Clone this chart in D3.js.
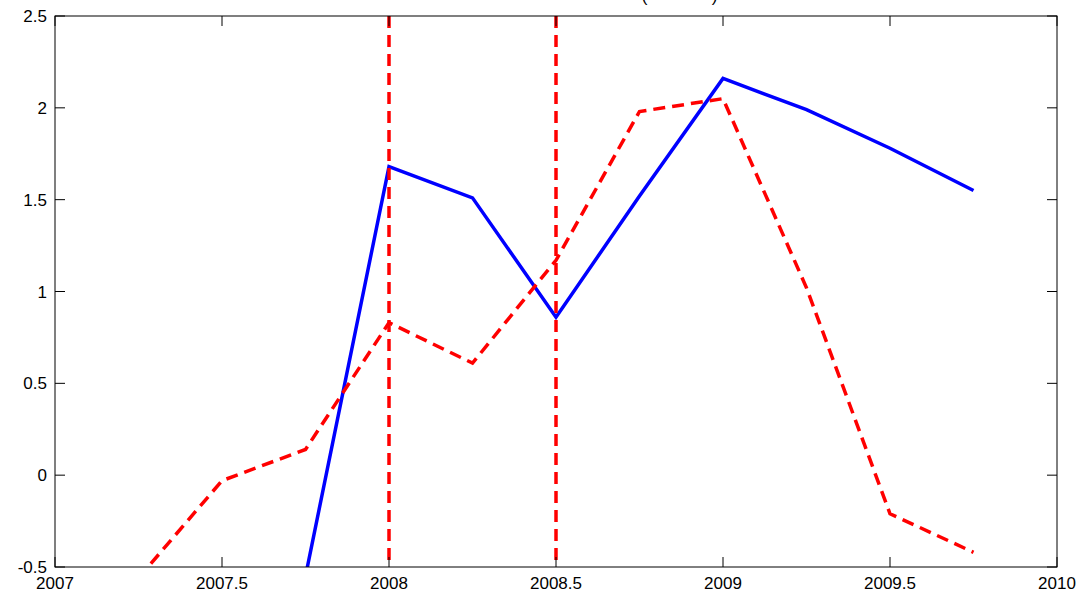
<!DOCTYPE html>
<html><head><meta charset="utf-8">
<script src="https://cdn.jsdelivr.net/npm/d3@7"></script>
<style>body{margin:0;background:#fff}text{font-family:Arial,"Liberation Sans",sans-serif}</style>
</head><body><svg></svg>
<script>
let width = 1085, height = 598

let quarters = [2007.25, 2007.5, 2007.75, 2008, 2008.25, 2008.5, 2008.75, 2009, 2009.25, 2009.5, 2009.75]
let blueSeries = [null, null, -0.55, 1.68, 1.51, 0.86, 1.52, 2.16, 1.99, 1.78, 1.55]
let redSeries = [-0.56, -0.03, 0.14, 0.83, 0.61, 1.17, 1.98, 2.05, 1.02, -0.21, -0.42]
let markers = [2008, 2008.5]
let xTicks = [2007, 2007.5, 2008, 2008.5, 2009, 2009.5, 2010]
let yTicks = [-0.5, 0, 0.5, 1, 1.5, 2, 2.5]
let titleParts = [{t: "(", at: 2008.765}, {t: ")", at: 2008.975}]

let svg = d3.select("svg").attr("width", width).attr("height", height)

let x = d3.scaleLinear().domain([2007, 2010]).range([55, 1057])
let y = d3.scaleLinear().domain([-0.5, 2.5]).range([567, 16])

svg.append("clipPath").attr("id", "clip").append("rect")
    .attr("x", 55).attr("y", 16).attr("width", 1002).attr("height", 551)

// title, mostly cut off at the top of the picture
titleParts.forEach(p => {
    svg.append("text").attr("x", x(p.at)).attr("y", 2).attr("text-anchor", "middle")
        .attr("font-size", 17).text(p.t)
})

let plot = svg.append("g").attr("clip-path", "url(#clip)")

let line = d3.line().defined(d => d[1] !== null).x(d => x(d[0])).y(d => y(d[1]))

plot.append("path").datum(quarters.map((q, i) => [q, blueSeries[i]]))
    .attr("d", line).attr("fill", "none").attr("stroke", "#0000ff").attr("stroke-width", 3.5)

plot.append("path").datum(quarters.map((q, i) => [q, redSeries[i]]))
    .attr("d", line).attr("fill", "none").attr("stroke", "#ff0000").attr("stroke-width", 3.5)
    .attr("stroke-dasharray", "12,7")

markers.forEach(m => {
    plot.append("line").attr("x1", x(m)).attr("x2", x(m)).attr("y1", y(2.5)).attr("y2", y(-0.5))
        .attr("stroke", "#ff0000").attr("stroke-width", 3.5).attr("stroke-dasharray", "12,7")
})

// frame
svg.append("rect").attr("x", 55).attr("y", 16).attr("width", 1002).attr("height", 551)
    .attr("fill", "none").attr("stroke", "#000").attr("stroke-width", 1)

let ax = svg.append("g").attr("stroke", "#000")
xTicks.forEach(t => {
    ax.append("line").attr("x1", x(t)).attr("x2", x(t)).attr("y1", 567).attr("y2", 557)
    ax.append("line").attr("x1", x(t)).attr("x2", x(t)).attr("y1", 16).attr("y2", 26)
    svg.append("text").attr("x", x(t)).attr("y", 589).attr("text-anchor", "middle")
        .attr("font-size", 17).text(t)
})
yTicks.forEach(t => {
    ax.append("line").attr("x1", 55).attr("x2", 65).attr("y1", y(t)).attr("y2", y(t))
    ax.append("line").attr("x1", 1057).attr("x2", 1047).attr("y1", y(t)).attr("y2", y(t))
    svg.append("text").attr("x", 47).attr("y", y(t) + 6).attr("text-anchor", "end")
        .attr("font-size", 17).text(t)
})
</script></body></html>
